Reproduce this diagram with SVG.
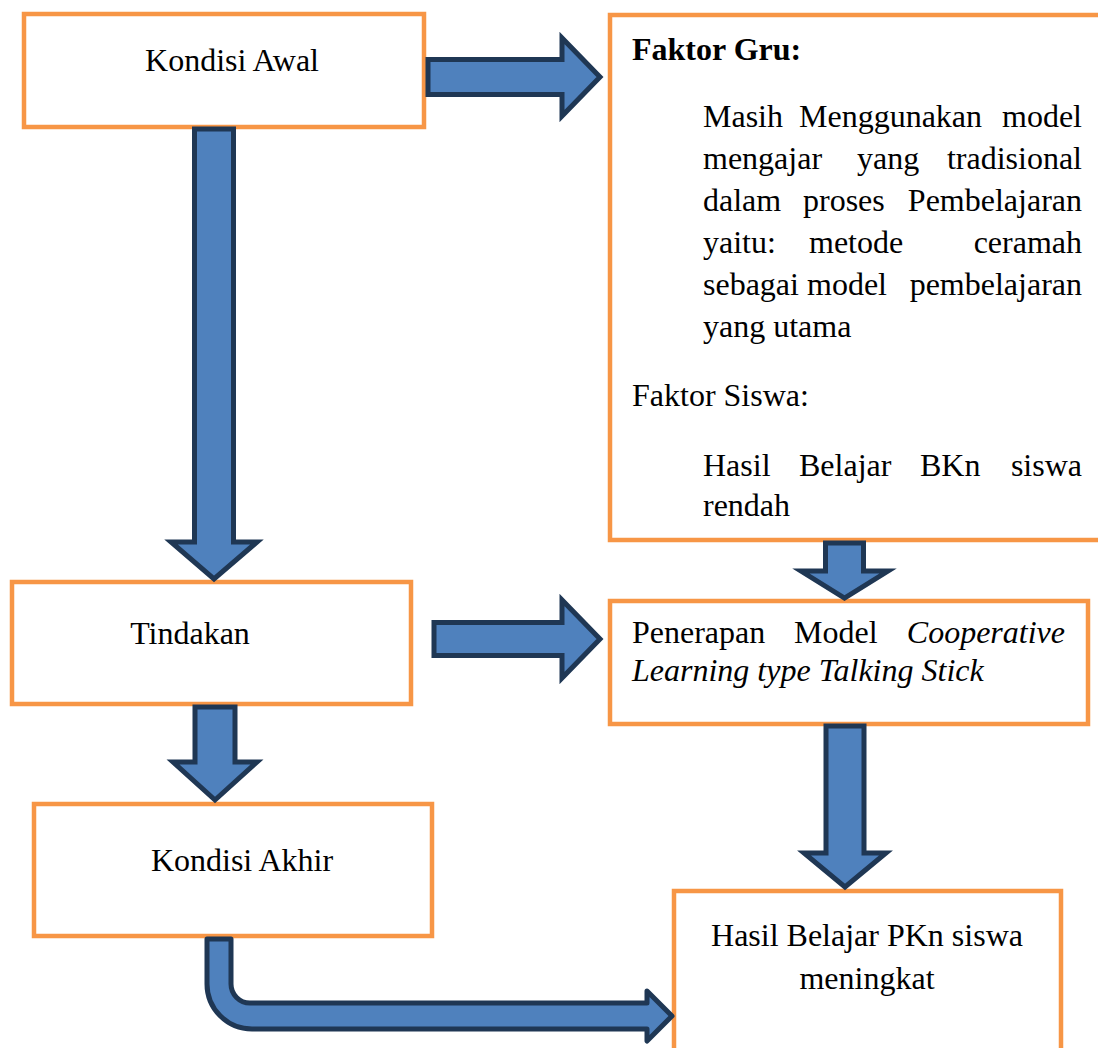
<svg xmlns="http://www.w3.org/2000/svg" width="1098" height="1048" viewBox="0 0 1098 1048">
<defs>
<style>
.box{fill:#ffffff;stroke:#F79646;stroke-width:4.5}
.arr{fill:#4F81BD;stroke:#1F3754;stroke-width:5;stroke-linejoin:miter}
.bent{fill:#4F81BD;stroke:#1F3754;stroke-width:5;stroke-linejoin:round}
.t{font-family:"Liberation Serif","Times New Roman",serif;font-size:32px;fill:#000}
.b{font-weight:bold}
.i{font-style:italic}
.c{text-anchor:middle}
</style>
</defs>
<rect width="1098" height="1048" fill="#ffffff"/>
<g id="node-kondisi-awal">
<rect class="box" x="24" y="14" width="400" height="113"/>
<text class="t c" x="232" y="71">Kondisi Awal</text>
</g>
<g id="node-faktor">
<rect class="box" x="610" y="15" width="500" height="525"/>
<text class="t b" x="632" y="60">Faktor Gru:</text>
<text class="t"><tspan x="703" y="127">Masih</tspan><tspan x="799" y="127">Menggunakan</tspan><tspan x="1082" y="127" text-anchor="end">model</tspan></text>
<text class="t"><tspan x="703" y="169">mengajar</tspan><tspan x="857" y="169">yang</tspan><tspan x="1082" y="169" text-anchor="end">tradisional</tspan></text>
<text class="t"><tspan x="703" y="211">dalam</tspan><tspan x="803" y="211">proses</tspan><tspan x="1082" y="211" text-anchor="end">Pembelajaran</tspan></text>
<text class="t"><tspan x="703" y="253">yaitu:</tspan><tspan x="809" y="253">metode</tspan><tspan x="1082" y="253" text-anchor="end">ceramah</tspan></text>
<text class="t"><tspan x="703" y="295">sebagai</tspan><tspan x="807" y="295">model</tspan><tspan x="1082" y="295" text-anchor="end">pembelajaran</tspan></text>
<text class="t" x="703" y="337">yang utama</text>
<text class="t" x="632" y="406">Faktor Siswa:</text>
<text class="t"><tspan x="703" y="476">Hasil</tspan><tspan x="799" y="476">Belajar</tspan><tspan x="920" y="476">BKn</tspan><tspan x="1082" y="476" text-anchor="end">siswa</tspan></text>
<text class="t" x="703" y="516">rendah</text>
</g>
<g id="node-tindakan">
<rect class="box" x="12" y="582" width="399" height="122"/>
<text class="t c" x="190" y="644">Tindakan</text>
</g>
<g id="node-penerapan">
<rect class="box" x="610" y="601" width="478" height="123"/>
<text class="t"><tspan x="632" y="643">Penerapan</tspan><tspan x="794" y="643">Model</tspan><tspan x="1065" y="643" text-anchor="end" font-style="italic">Cooperative</tspan></text>
<text class="t i" x="632" y="681">Learning type Talking Stick</text>
</g>
<g id="node-kondisi-akhir">
<rect class="box" x="34" y="804" width="398" height="132"/>
<text class="t c" x="242" y="871">Kondisi Akhir</text>
</g>
<g id="node-hasil">
<rect class="box" x="674" y="891" width="387" height="200"/>
<text class="t c" x="867" y="946">Hasil Belajar PKn siswa</text>
<text class="t c" x="867" y="989">meningkat</text>
</g>
<g id="connectors">
<polygon class="arr" points="428,59.5 562,59.5 562,38 600,77 562,116 562,94.5 428,94.5"/>
<polygon class="arr" points="194.5,129 233.5,129 233.5,542 257,542 214,579 171,542 194.5,542"/>
<polygon class="arr" points="434,622.5 562,622.5 562,600 600,639 562,678 562,655.5 434,655.5"/>
<polygon class="arr" points="825.5,543 863.5,543 863.5,571 888,571 844.5,598 801,571 825.5,571"/>
<polygon class="arr" points="195,707 235,707 235,762 257,762 215,800 173,762 195,762"/>
<polygon class="arr" points="826,726 864,726 864,853 886,853 845,887 804,853 826,853"/>
<path class="bent" d="M207,939 L231,939 L231,984 A19,19 0 0 0 250,1003 L647,1003 L647,991 L672,1016 L647,1041 L647,1029 L252,1029 A45,45 0 0 1 207,984 Z"/>
</g>
</svg>
